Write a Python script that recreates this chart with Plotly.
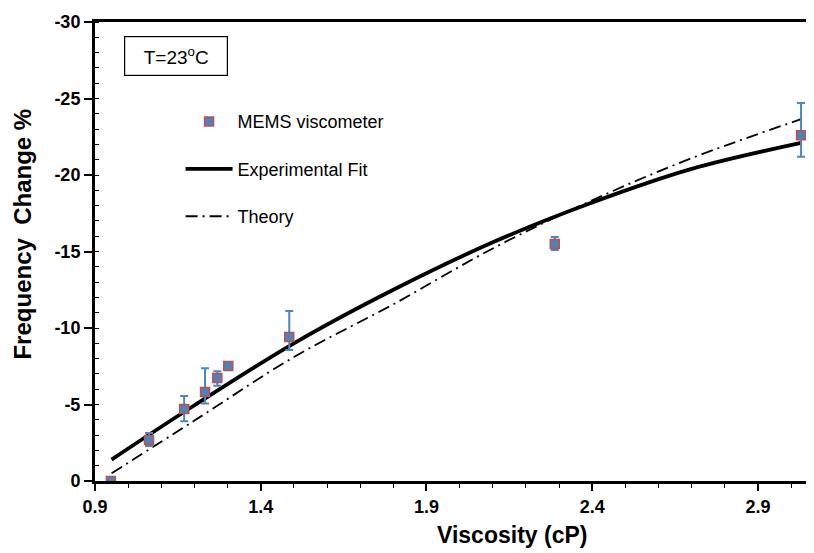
import plotly.graph_objects as go

# Measured data (MEMS viscometer)
visc = [0.948, 1.063, 1.169, 1.232, 1.269, 1.302, 1.486, 2.287, 3.03]
freq = [0.0, -2.68, -4.71, -5.82, -6.73, -7.52, -9.41, -15.49, -22.6]
err_plus = [0.0, 0.4, 0.8, 0.75, 0.5, 0.0, 0.85, 0.4, 1.4]   # toward 0 (downwards on reversed axis)
err_minus = [0.0, 0.45, 0.85, 1.55, 0.45, 0.0, 1.7, 0.45, 2.1]  # toward more negative (upwards)

# Experimental fit curve
fit_x = [0.95, 1.2, 1.5, 1.8, 2.1, 2.4, 2.7, 3.03]
fit_y = [-1.4, -4.95, -9.0, -12.5, -15.6, -18.2, -20.4, -22.1]

# Theory curve
th_x = [0.95, 1.2, 1.5, 1.8, 2.1, 2.4, 2.7, 3.03]
th_y = [-0.5, -3.95, -8.1, -11.55, -15.2, -18.35, -21.1, -23.65]

y_ticks = [0, -5, -10, -15, -20, -25, -30]
y_ticktext = ["0", "-5", "-10", "-15", "-20", "-25", "-30"]
x_ticks = [0.9, 1.4, 1.9, 2.4, 2.9]
x_ticktext = ["0.9", "1.4", "1.9", "2.4", "2.9"]

FONT = "Liberation Sans, Arial, sans-serif"

fig = go.Figure()

fig.add_trace(go.Scatter(
    x=fit_x, y=fit_y, mode="lines", name="Experimental Fit",
    line=dict(color="black", width=3.8, shape="spline"),
    legendgroup="b", legendrank=2,
))
fig.add_trace(go.Scatter(
    x=th_x, y=th_y, mode="lines", name="Theory",
    line=dict(color="black", width=1.8, dash="12px,5px,2px,5px", shape="spline"),
    legendgroup="c", legendrank=3,
))
fig.add_trace(go.Scatter(
    x=visc, y=freq, mode="markers", name="MEMS viscometer",
    marker=dict(symbol="square", size=9, color="#4f81bd",
                line=dict(color="#c0504d", width=1.5)),
    error_y=dict(type="data", symmetric=False, array=err_plus, arrayminus=err_minus,
                 color="#4a86c5", thickness=2, width=4),
    legendgroup="a", legendrank=1,
))

fig.add_annotation(
    x=0.113, y=0.925, xref="paper", yref="paper", xanchor="center", yanchor="middle",
    text="T=23<sup>o</sup>C", showarrow=False,
    font=dict(family=FONT, size=19, color="black"),
    bordercolor="black", borderwidth=1.2, borderpad=7, bgcolor="white",
    width=88,
)

# Axis titles (positioned like the original, slightly off-centre)
fig.add_annotation(
    x=0.473, y=-0.118, xref="paper", yref="paper", xanchor="left", yanchor="middle",
    text="<b>Viscosity (cP)</b>", showarrow=False,
    font=dict(family=FONT, size=23, color="black"),
)
fig.add_annotation(
    x=-0.1015, y=0.537, xref="paper", yref="paper", xanchor="center", yanchor="middle",
    text="<b>Frequency  Change %</b>", showarrow=False, textangle=-90,
    font=dict(family=FONT, size=24, color="black"),
)

# The page places the figure 8px from the top-left corner of the window,
# so the figure is sized to end exactly at the window's edges.
fig.update_layout(
    width=806, height=545,
    margin=dict(l=87, r=0, t=14, b=72),
    paper_bgcolor="white", plot_bgcolor="white",
    font=dict(family=FONT, color="black"),
    showlegend=True,
    legend=dict(x=0.119, y=0.823, xanchor="left", yanchor="top",
                bgcolor="rgba(0,0,0,0)", borderwidth=0,
                font=dict(family=FONT, size=18, color="black"),
                tracegroupgap=21, itemwidth=47),
    xaxis=dict(
        range=[0.9, 3.069], showgrid=False, zeroline=False,
        showline=True, linecolor="black", linewidth=3, mirror=True,
        tickvals=x_ticks, ticktext=x_ticktext,
        ticks="outside", ticklen=7, tickwidth=1.5, tickcolor="black",
        minor=dict(dtick=0.1, tick0=0.9, ticks="outside", ticklen=4, tickwidth=1, tickcolor="black"),
        tickfont=dict(family=FONT, size=18, color="black", weight="bold"),
    ),
    yaxis=dict(
        range=[0, -30], showgrid=False, zeroline=False,
        showline=True, linecolor="black", linewidth=3, mirror=False,
        tickvals=y_ticks, ticktext=y_ticktext,
        ticks="outside", ticklen=8, tickwidth=1.5, tickcolor="black",
        minor=dict(dtick=1, tick0=0, ticks="inside", ticklen=4, tickwidth=1, tickcolor="black"),
        tickfont=dict(family=FONT, size=18, color="black", weight="bold"),
    ),
)

fig.write_html("out.html")
